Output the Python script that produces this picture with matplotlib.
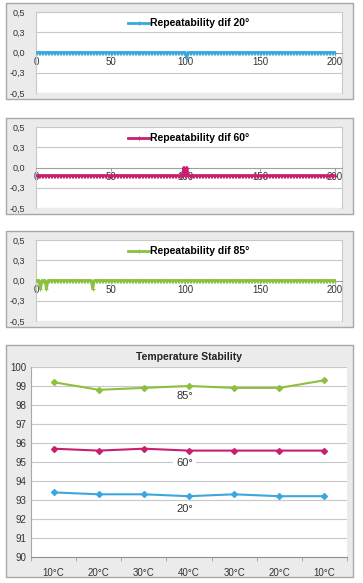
import numpy as np
import matplotlib
matplotlib.use("Agg")
import matplotlib.pyplot as plt
from matplotlib.patches import Rectangle

plt.rcParams['font.family'] = ['Liberation Sans', 'DejaVu Sans']

W, H = 363, 583

# repeatability data (measurement number 1..200)
meas = list(range(1, 201))
rep20 = [0.0] * 100 + [-0.07] + [0.0] * 99
rep60 = [-0.1] * 98 + [0.0, -0.1, 0.0] + [-0.1] * 99
rep85 = [0.0] * 2 + [-0.1] + [0.0] * 3 + [-0.1] + [0.0] * 30 + [-0.1] + [0.0] * 162

rep_names = ['Repeatability dif 20°', 'Repeatability dif 60°', 'Repeatability dif 85°']
rep_series = [rep20, rep60, rep85]
rep_ticks = [0.5, 0.25, 0.0, -0.25, -0.5]
rep_ticklabels = ['0,5', '0,3', '0,0', '-0,3', '-0,5']

# temperature stability
temps = ['10°C', '20°C', '30°C', '40°C', '30°C', '20°C', '10°C']
gloss85 = [99.2, 98.8, 98.9, 99.0, 98.9, 98.9, 99.3]
gloss60 = [95.7, 95.6, 95.7, 95.6, 95.6, 95.6, 95.6]
gloss20 = [93.4, 93.3, 93.3, 93.2, 93.3, 93.2, 93.2]

blue = '#3ba7dd'
magenta = '#c81f6e'
green = '#8dc03f'
colors = [blue, magenta, green]

fig = plt.figure(figsize=(W / 100, H / 100), dpi=100)
fig.patch.set_facecolor('white')


def px_box(x0, y0, x1, y1):
    # pixel box (top-left origin) -> figure fraction
    return [x0 / W, 1 - y1 / H, (x1 - x0) / W, (y1 - y0) / H]


def chart_bg(x0, y0, x1, y1):
    r = Rectangle((x0 / W, 1 - y1 / H), (x1 - x0) / W, (y1 - y0) / H,
                  transform=fig.transFigure, facecolor='#ebebeb',
                  edgecolor='#a8a8a8', linewidth=1.0, zorder=0)
    fig.add_artist(r)


tops = [4, 119, 232]
for i in range(3):
    t = tops[i]
    chart_bg(6, t - 1, 353, t + 95)
    ax = fig.add_axes(px_box(36, t + 8, 342, t + 89))
    ax.set_facecolor('white')
    ax.plot(meas, rep_series[i], color=colors[i], lw=2, marker='+',
            markersize=2.5, markeredgewidth=0.8, label=rep_names[i], zorder=3)
    ax.set_xlim(0, 205)
    ax.set_ylim(-0.5, 0.5)
    ax.set_yticks(rep_ticks)
    ax.set_yticklabels(rep_ticklabels)
    ax.set_xticks([0, 50, 100, 150, 200])
    ax.set_xticklabels(['0', '50', '100', '150', '200'])
    for y in [0.25, -0.25]:
        ax.axhline(y, color='#c8c8c8', lw=0.8, zorder=1)
    for s in ['top', 'left', 'right']:
        ax.spines[s].set_color('#c8c8c8')
        ax.spines[s].set_linewidth(0.8)
    ax.spines['bottom'].set_position(('data', 0))
    ax.spines['bottom'].set_color('#a0a0a0')
    ax.spines['bottom'].set_linewidth(0.8)
    ax.tick_params(axis='y', length=0, labelsize=6.5, pad=8, colors='#333333')
    ax.tick_params(axis='x', length=2, direction='out', labelsize=7,
                   pad=1, colors='#a0a0a0', labelcolor='#333333')
    ax.axhline(-0.5, color='#c8c8c8', lw=0.8, zorder=1)
    leg = ax.legend(loc='upper center', frameon=False, handlelength=2.0,
                    handletextpad=0.1, borderaxespad=0.2,
                    prop={'size': 7.5, 'weight': 'bold'})

# temperature stability chart
chart_bg(6, 345, 353, 577)
ax = fig.add_axes(px_box(31, 367, 347, 557))
ax.set_facecolor('white')
xpos = np.arange(len(temps))
for vals, c in zip([gloss85, gloss60, gloss20], [green, magenta, blue]):
    ax.plot(xpos, vals, color=c, lw=1.5, marker='D', markersize=3, zorder=3)
ax.set_xlim(-0.5, len(temps) - 0.5)
ax.set_ylim(90, 100)
ax.set_yticks(range(90, 101))
ax.set_xticks(xpos)
ax.set_xticklabels(temps)
ax.set_xticks(np.arange(-0.5, len(temps), 1), minor=True)
ax.grid(axis='y', color='#c8c8c8', lw=0.8, zorder=1)
for s in ['top', 'right']:
    ax.spines[s].set_visible(False)
ax.spines['left'].set_color('#a8a8a8')
ax.spines['bottom'].set_color('#909090')
ax.tick_params(axis='y', length=0, labelsize=7, pad=3, colors='#333333')
ax.tick_params(axis='x', which='major', length=0, labelsize=7, pad=8,
               colors='#333333')
ax.tick_params(axis='x', which='minor', length=3, direction='out',
               colors='#a0a0a0')
ax.set_title('Temperature Stability', fontsize=7.5, fontweight='bold',
             pad=5, color='#222222')
ax.text(2.9, 98.47, '85°', fontsize=8, ha='center', va='center',
        color='#333333', zorder=4)
ax.text(2.9, 94.95, '60°', fontsize=8, ha='center', va='center',
        color='#333333', zorder=4,
        bbox=dict(facecolor='white', edgecolor='none', pad=2))
ax.text(2.9, 92.53, '20°', fontsize=8, ha='center', va='center',
        color='#333333', zorder=4)

fig.savefig('out.png', dpi=100)
